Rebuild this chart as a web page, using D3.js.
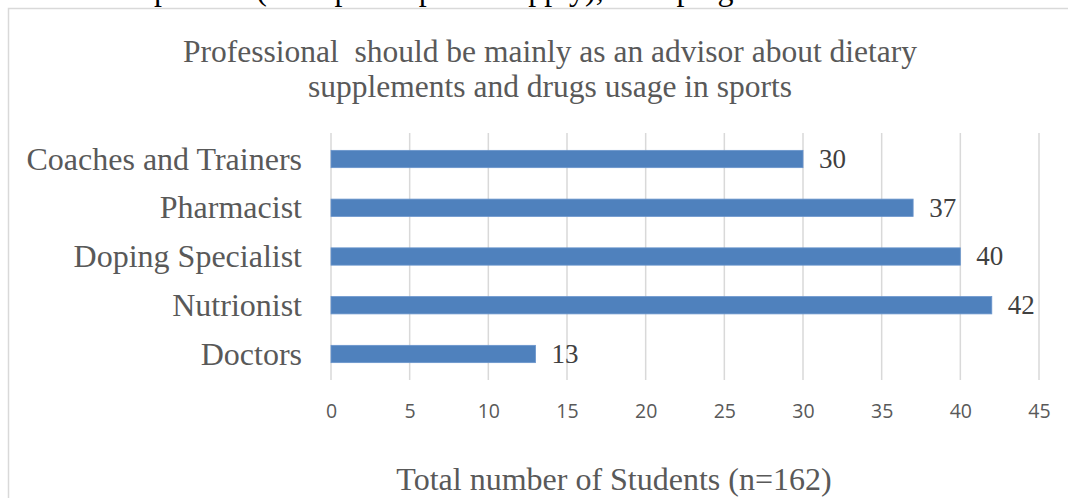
<!DOCTYPE html>
<html><head><meta charset="utf-8">
<script src="https://cdn.jsdelivr.net/npm/d3@7"></script>
<style>body{margin:0;background:#fff;overflow:hidden}svg{display:block}</style>
</head><body>
<script>
const categories = ["Coaches and Trainers","Pharmacist","Doping Specialist","Nutrionist","Doctors"];
const values = [30,37,40,42,13];
const xTicks = [0,5,10,15,20,25,30,35,40,45];
const titleLines = ["Professional  should be mainly as an advisor about dietary","supplements and drugs usage in sports"];
const xTitle = "Total number of Students (n=162)";
const cutText = "Students' opinions (multiple responses apply), in doping";

const W=1068,H=498;
const svg=d3.select("body").append("svg").attr("width",W).attr("height",H);
const serif="'Liberation Serif','Times New Roman',serif";

// clipped text from page above
svg.append("text").attr("x",14).attr("y",0).attr("font-family",serif).attr("font-size",32)
  .attr("fill","#000").text(cutText);

svg.append("rect").attr("x",8.5).attr("y",8.5).attr("width",1070).attr("height",500)
  .attr("fill","#fff").attr("stroke","#d9d9d9").attr("stroke-width",1.5);

const x=d3.scaleLinear().domain([0,45]).range([331,1039]);
const y=d3.scaleBand().domain(categories).range([133,380]).paddingInner(0.645).paddingOuter(0.356);

// gridlines
svg.append("g").selectAll("line").data(xTicks).join("line")
  .attr("x1",d=>x(d)).attr("x2",d=>x(d)).attr("y1",133).attr("y2",380)
  .attr("stroke","#d9d9d9").attr("stroke-width",1.5);

// x axis labels
const xa=svg.append("g").attr("transform","translate(0,411)")
  .call(d3.axisBottom(x).tickValues(xTicks).tickSize(0).tickPadding(0));
xa.select(".domain").remove();
xa.selectAll("text").attr("font-family","'Open Sans',sans-serif").attr("font-size",19.5)
  .attr("fill","#595959").attr("dy","0.35em");

// y axis labels
const ya=svg.append("g").attr("transform","translate(302,0)")
  .call(d3.axisLeft(y).tickSize(0).tickPadding(0));
ya.select(".domain").remove();
ya.selectAll("text").attr("font-family",serif).attr("font-size",32).attr("fill","#595959").attr("dy","0.33em");

// bars
svg.append("g").selectAll("rect").data(categories).join("rect")
  .attr("x",x(0)).attr("y",d=>y(d)).attr("height",y.bandwidth())
  .attr("width",(d,i)=>x(values[i])-x(0)).attr("fill","#4f81bd")
  .attr("stroke","#6a95cc").attr("stroke-width",0.8);

// value labels
svg.append("g").selectAll("text").data(categories).join("text")
  .attr("x",(d,i)=>x(values[i])+16).attr("y",d=>y(d)+y.bandwidth()/2)
  .attr("dy","0.33em").attr("font-family",serif).attr("font-size",27).attr("fill","#404040")
  .text((d,i)=>values[i]);

// title
svg.append("g").selectAll("text").data(titleLines).join("text")
  .attr("x",550).attr("y",(d,i)=>62+i*35).attr("text-anchor","middle")
  .style("white-space","pre").attr("xml:space","preserve")
  .attr("font-family",serif).attr("font-size",31.5).attr("fill","#595959").text(d=>d);

// x title
svg.append("text").attr("x",614).attr("y",490).attr("text-anchor","middle")
  .attr("font-family",serif).attr("font-size",32).attr("fill","#595959").text(xTitle);
</script>
</body></html>
